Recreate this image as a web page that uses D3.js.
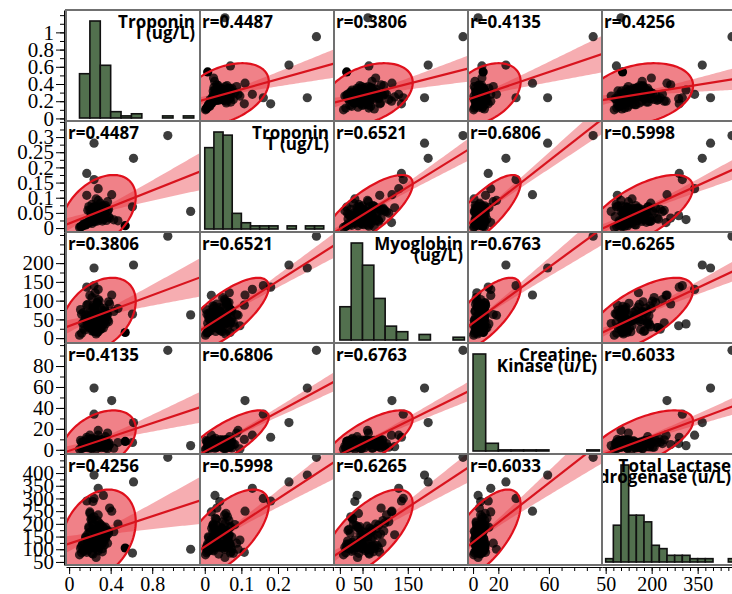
<!DOCTYPE html>
<html>
<head>
<meta charset="utf-8">
<script src="https://cdn.jsdelivr.net/npm/d3@7"></script>
<style>
body { margin: 0; background: #fff; }
</style>
</head>
<body>
<script>
// one row per patient: 90 in the main cluster, then the outliers
var troponinI = [
  0.15,0.21,0.12,0.19,0.26,0.10,0.18,0.22,0.14,0.31,
  0.17,0.20,0.24,0.13,0.19,0.16,0.21,0.25,0.11,0.18,
  0.22,0.15,0.27,0.19,0.12,0.20,0.34,0.16,0.23,0.14,
  0.24,0.28,0.19,0.22,0.26,0.30,0.25,0.23,0.27,0.20,
  0.28,0.24,0.25,0.17,0.26,0.32,0.23,0.28,0.22,0.27,
  0.25,0.21,0.24,0.29,0.26,0.18,0.27,0.35,0.23,0.28,
  0.33,0.29,0.36,0.24,0.31,0.38,0.30,0.21,0.34,0.32,
  0.37,0.26,0.33,0.43,0.29,0.35,0.31,0.22,0.38,0.30,
  0.36,0.25,0.34,0.32,0.39,0.33,0.23,0.37,0.47,0.35,
  1.17,0.95,0.62,0.61,0.54,0.24,0.41,0.24,0.28,0.17];

var troponinT = [
  0.012,0.031,0.005,0.018,0.044,0.002,0.020,0.015,0.009,0.060,
  0.017,0.022,0.035,0.008,0.019,0.011,0.038,0.021,0.004,0.016,
  0.041,0.013,0.066,0.020,0.006,0.018,0.048,0.010,0.022,0.014,
  0.062,0.048,0.071,0.029,0.057,0.082,0.065,0.044,0.069,0.058,
  0.091,0.050,0.063,0.108,0.055,0.073,0.041,0.024,0.078,0.061,
  0.067,0.052,0.070,0.056,0.096,0.059,0.053,0.074,0.068,0.054,
  0.036,0.051,0.025,0.030,0.043,0.061,0.039,0.032,0.047,0.023,
  0.056,0.034,0.040,0.027,0.045,0.068,0.031,0.049,0.037,0.042,
  0.035,0.026,0.046,0.072,0.033,0.028,0.038,0.087,0.024,0.064,
  0.055,0.305,0.230,0.070,0.008,0.280,0.110,0.160,0.130,0.180];

var myoglobin = [
  22,46,13,29,70,8,31,19,26,52,
  47,58,34,40,66,53,37,45,76,35,
  72,49,95,36,64,114,80,62,86,68,
  24,17,44,28,11,30,83,20,15,41,
  61,43,51,88,39,50,33,57,42,93,
  121,46,77,99,33,90,59,73,42,103,
  27,32,56,18,25,97,23,28,49,60,
  48,36,54,71,41,38,55,108,44,82,
  67,85,48,74,91,38,65,63,79,69,
  62,272,195,64,15,187,115,140,130,136];

var creatineKinase = [
  2.4,5,1,3,8,0.5,2.7,1.5,2,5.5,
  5.1,6.7,3.3,4.1,8,5.5,3.8,4.6,9,3.1,
  8.2,5.2,9.3,3.5,7.3,14,8.7,6.3,9.7,7.8,
  7.2,4.5,6,11,3.6,5.3,3.2,6.5,4.3,9.6,
  18.5,5.8,8.3,9.9,4,9.2,6,8.8,5,9.5,
  3,1.2,4.5,2.5,0.8,2,9.5,1.8,2.2,6,
  7.7,9,6.8,8.5,9.8,4,7.5,7,8,9,
  1,2.8,6.5,1.5,3,12.5,2,2.5,7,4.2,
  4.8,3.5,6.2,7.5,5,4,5.7,16,7,8.5,
  4,95,26,7,8,59,47,34,14,12];

var lactateDH = [
  101,134,86,104,176,78,96,120,92,151,
  138,168,111,122,183,145,107,130,103,118,
  113,124,213,110,112,247,181,149,195,98,
  228,132,189,222,108,197,155,178,120,241,
  100,105,143,88,68,102,288,94,84,126,
  157,121,114,203,136,160,109,148,123,235,
  128,115,153,174,119,172,164,218,117,191,
  171,193,141,169,185,187,146,208,162,116,
  166,106,159,90,262,312,81,124,199,140,
  100,462,365,85,105,392,250,300,340,290];

var selectedPatient = 94;

var diagLabels = [
  ["Troponin", "I (ug/L)"],
  ["Troponin", "T (ug/L)"],
  ["Myoglobin", "(ug/L)"],
  ["Creatine-", "Kinase (u/L)"],
  ["Total Lactase", "Dehydrogenase (u/L)"]];

var rValues = [
  [null, 0.4487, 0.3806, 0.4135, 0.4256],
  [0.4487, null, 0.6521, 0.6806, 0.5998],
  [0.3806, 0.6521, null, 0.6763, 0.6265],
  [0.4135, 0.6806, 0.6763, null, 0.6033],
  [0.4256, 0.5998, 0.6265, 0.6033, null]];

var domains = [[-0.03, 1.26], [-0.013, 0.353], [-13, 283], [-4, 102], [38, 475]];
var binStarts = [0, 0, 0, 0, 50];
var binWidths = [0.1, 0.025, 25, 10, 25];

var yTickLabels = [
  [0, 0.2, 0.4, 0.6, 0.8, 1],
  [0, 0.05, 0.1, 0.15, 0.2, 0.25, 0.3],
  [0, 50, 100, 150, 200],
  [0, 20, 40, 60, 80],
  [50, 100, 150, 200, 250, 300, 350, 400]];
var xTickLabels = [
  [0, 0.4, 0.8],
  [0, 0.1, 0.2],
  [0, 50, 150],
  [0, 20, 60],
  [50, 200, 350]];
var minorSteps = [0.1, 0.025, 25, 10, 25];

var columns = [troponinI, troponinT, myoglobin, creatineKinase, lactateDH];

var cellW = 134, cellH = 111;
var gridLeft = 66, gridTop = 10;
var nVars = 5;

var svg = d3.select("body")
    .append("svg")
        .attr("width", 732)
        .attr("height", 594)
        .style("background", "#fff");

svg.append("defs").append("clipPath")
        .attr("id", "cellClip")
    .append("rect")
        .attr("width", cellW)
        .attr("height", cellH);

function scaleX(j) {
    return d3.scaleLinear().domain(domains[j]).range([0, cellW]);
}
function scaleY(i) {
    return d3.scaleLinear().domain(domains[i]).range([cellH, 0]);
}

function fitStats(xs, ys) {
    var n = xs.length, mx = d3.mean(xs), my = d3.mean(ys);
    var sxx = 0, syy = 0, sxy = 0;
    for (var k = 0; k < n; k++) {
        var dx = xs[k] - mx, dy = ys[k] - my;
        sxx += dx * dx; syy += dy * dy; sxy += dx * dy;
    }
    var b = sxy / sxx, a = my - b * mx, sse = 0;
    for (var k = 0; k < n; k++) {
        var e = ys[k] - a - b * xs[k];
        sse += e * e;
    }
    return {n: n, mx: mx, my: my, sxx: sxx, a: a, b: b,
            s: Math.sqrt(sse / (n - 2)),
            vx: sxx / (n - 1), vy: syy / (n - 1), cxy: sxy / (n - 1)};
}

function drawScatter(g, i, j) {
    var x = scaleX(j), y = scaleY(i);
    var xs = columns[j], ys = columns[i];
    var st = fitStats(xs, ys);

    // 95% density ellipse
    var k95 = Math.sqrt(5.991);
    var l11 = Math.sqrt(st.vx), l21 = st.cxy / l11, l22 = Math.sqrt(st.vy - l21 * l21);
    var ellipse = d3.range(0, 121).map(function(t) {
        var ang = t / 120 * 2 * Math.PI, c = Math.cos(ang) * k95, s = Math.sin(ang) * k95;
        return [x(st.mx + l11 * c), y(st.my + l21 * c + l22 * s)];
    });

    // fit with 95% confidence band
    var grid = d3.range(0, 61).map(function(t) {
        return domains[j][0] + (domains[j][1] - domains[j][0]) * t / 60;
    });
    function half(v) {
        return 1.984 * st.s * Math.sqrt(1 / st.n + (v - st.mx) * (v - st.mx) / st.sxx);
    }
    var band = d3.area()
        .x(function(v) { return x(v); })
        .y0(function(v) { return y(st.a + st.b * v - half(v)); })
        .y1(function(v) { return y(st.a + st.b * v + half(v)); });

    g.append("path")
        .attr("d", d3.line()(ellipse) + "Z")
        .style("fill", "#e31a26")
        .style("fill-opacity", 0.55)
        .style("stroke", "none");

    g.append("path")
        .attr("d", band(grid))
        .style("fill", "#e8323c")
        .style("fill-opacity", 0.4)
        .style("stroke", "none");

    g.selectAll("circle")
        .data(d3.range(xs.length))
        .join("circle")
        .attr("cx", function(k) { return x(xs[k]); })
        .attr("cy", function(k) { return y(ys[k]); })
        .attr("r", 4.6)
        .style("fill", "#000")
        .style("fill-opacity", function(k) { return k === selectedPatient ? 1 : 0.76; });

    g.append("path")
        .attr("d", d3.line()(ellipse) + "Z")
        .style("fill", "none")
        .style("stroke", "#e0101c")
        .style("stroke-width", 2.2);

    g.append("line")
        .attr("x1", x(domains[j][0]))
        .attr("x2", x(domains[j][1]))
        .attr("y1", y(st.a + st.b * domains[j][0]))
        .attr("y2", y(st.a + st.b * domains[j][1]))
        .style("stroke", "#d8141e")
        .style("stroke-width", 2.2);

    g.append("text")
        .text("r=" + rValues[i][j].toFixed(4))
        .attr("x", 2)
        .attr("y", 18)
        .style("font-family", "Open Sans")
        .style("font-weight", "bold")
        .style("font-size", "17px")
        .style("fill", "#000");
}

function drawHist(g, j) {
    var x = scaleX(j), vals = columns[j], w = binWidths[j];
    var thresholds = d3.range(0, 40)
        .map(function(k) { return +(binStarts[j] + k * w).toFixed(4); })
        .filter(function(v) { return v <= domains[j][1]; });
    var bins = d3.bin()
        .domain([binStarts[j], domains[j][1]])
        .thresholds(thresholds)(vals);
    var yh = d3.scaleLinear()
        .domain([0, d3.max(bins, function(b) { return b.length; })])
        .range([cellH - 3, 11]);

    g.selectAll("rect.bar")
        .data(bins.filter(function(b) { return b.length > 0; }))
        .join("rect")
        .attr("class", "bar")
        .attr("x", function(b) { return x(b.x0); })
        .attr("width", function(b) { return x(b.x1) - x(b.x0); })
        .attr("y", function(b) { return yh(b.length); })
        .attr("height", function(b) { return yh(0) - yh(b.length); })
        .style("fill", "#52704e")
        .style("stroke", "#111")
        .style("stroke-width", 1.6);

    g.selectAll("text.name")
        .data(diagLabels[j])
        .join("text")
        .attr("class", "name")
        .text(function(d) { return d; })
        .attr("x", cellW - 5)
        .attr("y", function(d, k) { return 18 + k * 11; })
        .attr("text-anchor", "end")
        .style("font-family", "Open Sans")
        .style("font-weight", "bold")
        .style("font-size", "17px")
        .style("fill", "#000");
}

for (var i = 0; i < nVars; i++) {
    for (var j = 0; j < nVars; j++) {
        var cell = svg.append("g")
            .attr("transform", "translate(" + (gridLeft + j * cellW) + "," + (gridTop + i * cellH) + ")");
        var inner = cell.append("g").attr("clip-path", "url(#cellClip)");
        if (i === j) drawHist(inner, j);
        else drawScatter(inner, i, j);
        cell.append("rect")
            .attr("width", cellW)
            .attr("height", cellH)
            .style("fill", "none")
            .style("stroke", "#707070")
            .style("stroke-width", 2);
    }
}

function minorTicks(v) {
    var step = minorSteps[v], d = domains[v];
    return d3.range(Math.ceil(d[0] / step), Math.floor(d[1] / step) + 1)
        .map(function(k) { return +(k * step).toFixed(4); });
}

for (var i = 0; i < nVars; i++) {
    var yAx = svg.append("g")
        .attr("transform", "translate(" + (gridLeft - 2) + "," + (gridTop + i * cellH) + ")");
    yAx.call(d3.axisLeft(scaleY(i)).tickValues(minorTicks(i)).tickSize(4).tickSizeOuter(0).tickFormat(""));
    yAx.append("g")
        .call(d3.axisLeft(scaleY(i)).tickValues(yTickLabels[i]).tickSize(8).tickSizeOuter(0).tickPadding(2).tickFormat(String))
        .attr("font-family", "Liberation Serif")
        .attr("font-size", 21)
        .call(function(a) { a.select(".domain").remove(); });
}

for (var j = 0; j < nVars; j++) {
    var xAx = svg.append("g")
        .attr("transform", "translate(" + (gridLeft + j * cellW) + "," + (gridTop + nVars * cellH + 2) + ")");
    xAx.call(d3.axisBottom(scaleX(j)).tickValues(minorTicks(j)).tickSize(4).tickSizeOuter(0).tickFormat(""));
    xAx.append("g")
        .call(d3.axisBottom(scaleX(j)).tickValues(xTickLabels[j]).tickSize(7).tickSizeOuter(0).tickPadding(3).tickFormat(String))
        .attr("font-family", "Liberation Serif")
        .attr("font-size", 20)
        .call(function(a) { a.select(".domain").remove(); });
}
</script>
</body>
</html>
